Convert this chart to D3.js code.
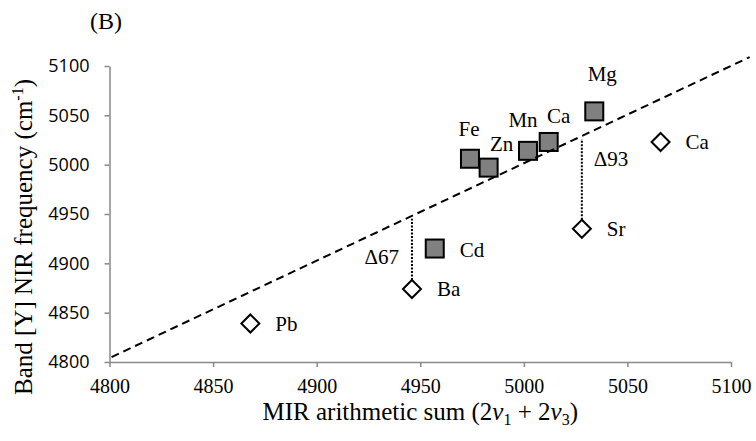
<!DOCTYPE html>
<html>
<head>
<meta charset="utf-8">
<script src="https://cdn.jsdelivr.net/npm/d3@7"></script>
<style>
  body { margin: 0; background: #fff; }
  svg { display: block; }
  .serif { font-family: "Liberation Serif", "Times New Roman", serif; }
</style>
</head>
<body>
<svg id="chart" width="756" height="441"></svg>
<script>
/*------------------------
  ---------- DATA --------
  ------------------------*/
var square_names = ["Cd", "Fe", "Zn", "Mn", "Ca", "Mg"];
var square_x = [4957, 4974, 4983, 5002, 5012, 5034];
var square_y = [4915, 5006, 4997, 5014, 5023, 5054];

var diamond_names = ["Pb", "Ba", "Sr", "Ca"];
var diamond_x = [4868, 4946, 5028, 5066];
var diamond_y = [4839, 4874, 4935, 5023];

var trend_x = [4801, 5109];
var trend_y = [4805, 5109];

var gap_names = ["Δ67", "Δ93"];
var gap_from = ["Ba", "Sr"];

var x_ticks = [4800, 4850, 4900, 4950, 5000, 5050, 5100];
var y_ticks = [4800, 4850, 4900, 4950, 5000, 5050, 5100];

/*------------------------
  -------- LAYOUT --------
  ------------------------*/
// label offsets from marker centre, px
var square_label_pos = {
    Cd: [25, 8, "start"],
    Fe: [-1, -23, "middle"],
    Zn: [13, -17, "middle"],
    Mn: [-5, -24, "middle"],
    Ca: [10, -19, "middle"],
    Mg: [8, -30, "middle"]
};
var diamond_label_pos = [25, 7.5];
var gap_label_pos = { "Δ67": [-13, 12, "end"], "Δ93": [12, -16, "start"] };

var svg = d3.select("#chart");

var x = d3.scaleLinear().domain([4800, 5100]).range([109.5, 731]);
var y = d3.scaleLinear().domain([4800, 5100]).range([362, 66]);

var squares = square_names.map(function(n, i) {
    return { name: n, x: square_x[i], y: square_y[i] };
});
var diamonds = diamond_names.map(function(n, i) {
    return { name: n, x: diamond_x[i], y: diamond_y[i] };
});

function trend_at(v) {
    return trend_y[0] + (v - trend_x[0]) * (trend_y[1] - trend_y[0]) / (trend_x[1] - trend_x[0]);
}

/*------------------------
  --------- AXES ---------
  ------------------------*/
var axis_color = "#898989";
var fmt = d3.format("d");

var gx = svg.append("g")
    .attr("transform", "translate(0," + y(4800) + ")")
    .call(d3.axisBottom(x).tickValues(x_ticks).tickFormat(fmt).tickSize(5).tickSizeOuter(0));
gx.selectAll("text")
    .attr("class", "serif")
    .attr("y", 31).attr("dy", null)
    .style("font-size", "20px").attr("fill", "#000");

var gy = svg.append("g")
    .attr("transform", "translate(" + x(4800) + ",0)")
    .call(d3.axisLeft(y).tickValues(y_ticks).tickFormat(fmt).tickSize(5).tickSizeOuter(0).tickPadding(15));
gy.selectAll("text")
    .style("font-family", "'Open Sans', sans-serif")
    .style("font-size", "18px").attr("fill", "#000");

svg.selectAll(".domain, .tick line")
    .attr("stroke", axis_color).attr("stroke-width", 1.5);

/*------------------------
  -------- MARKS ---------
  ------------------------*/
// vertical dotted gaps
gap_names.forEach(function(g, i) {
    var d = diamonds.find(function(p) { return p.name == gap_from[i]; });
    svg.append("line")
        .attr("x1", x(d.x)).attr("x2", x(d.x))
        .attr("y1", y(d.y) - 9).attr("y2", y(trend_at(d.x)) + 3)
        .attr("stroke", "#000").attr("stroke-width", 2)
        .attr("stroke-dasharray", "2,1.5");
    var lp = gap_label_pos[g];
    svg.append("text")
        .attr("class", "serif")
        .attr("x", x(d.x) + lp[0])
        .attr("y", (y(d.y) + y(trend_at(d.x))) / 2 + lp[1])
        .attr("text-anchor", lp[2])
        .style("font-size", "21px")
        .text(g);
});

svg.selectAll(".sq")
    .data(squares).enter()
    .append("rect")
    .attr("class", "sq")
    .attr("x", function(d) { return x(d.x) - 9; })
    .attr("y", function(d) { return y(d.y) - 9; })
    .attr("width", 18).attr("height", 18)
    .attr("fill", "#808080").attr("stroke", "#000").attr("stroke-width", 2);

svg.selectAll(".dm")
    .data(diamonds).enter()
    .append("path")
    .attr("class", "dm")
    .attr("d", function(d) {
        var cx = x(d.x), cy = y(d.y), r = 9;
        return "M" + cx + "," + (cy - r) + "L" + (cx + r) + "," + cy +
               "L" + cx + "," + (cy + r) + "L" + (cx - r) + "," + cy + "Z";
    })
    .attr("fill", "#fff").attr("stroke", "#000").attr("stroke-width", 2);

// trend line on top of markers
svg.append("line")
    .attr("x1", x(trend_x[0])).attr("y1", y(trend_y[0]))
    .attr("x2", x(trend_x[1])).attr("y2", y(trend_y[1]))
    .attr("stroke", "#000").attr("stroke-width", 2)
    .attr("stroke-dasharray", "8,5");

svg.selectAll(".sq-label")
    .data(squares).enter()
    .append("text")
    .attr("class", "serif sq-label")
    .attr("x", function(d) { return x(d.x) + square_label_pos[d.name][0]; })
    .attr("y", function(d) { return y(d.y) + square_label_pos[d.name][1]; })
    .attr("text-anchor", function(d) { return square_label_pos[d.name][2]; })
    .style("font-size", "21px")
    .text(function(d) { return d.name; });

svg.selectAll(".dm-label")
    .data(diamonds).enter()
    .append("text")
    .attr("class", "serif dm-label")
    .attr("x", function(d) { return x(d.x) + diamond_label_pos[0]; })
    .attr("y", function(d) { return y(d.y) + diamond_label_pos[1]; })
    .style("font-size", "21px")
    .text(function(d) { return d.name; });

/*------------------------
  -------- TITLES --------
  ------------------------*/
svg.append("text")
    .attr("class", "serif")
    .attr("x", 90).attr("y", 29)
    .style("font-size", "24px")
    .text("(B)");

var xt = svg.append("text")
    .attr("class", "serif")
    .attr("x", (x(4800) + x(5100)) / 2 + 0).attr("y", 420)
    .attr("text-anchor", "middle")
    .style("font-size", "25px");
xt.append("tspan").text("MIR arithmetic sum (2");
xt.append("tspan").style("font-style", "italic").text("v");
xt.append("tspan").attr("dy", 5).style("font-size", "16px").text("1");
xt.append("tspan").attr("dy", -5).text(" + 2");
xt.append("tspan").style("font-style", "italic").text("v");
xt.append("tspan").attr("dy", 5).style("font-size", "16px").text("3");
xt.append("tspan").attr("dy", -5).text(")");

var yt = svg.append("text")
    .attr("class", "serif")
    .attr("transform", "translate(32,237) rotate(-90)")
    .attr("text-anchor", "middle")
    .style("font-size", "25px");
yt.append("tspan").text("Band [Y] NIR frequency (cm");
yt.append("tspan").attr("dy", -9).style("font-size", "16px").text("-1");
yt.append("tspan").attr("dy", 9).text(")");
</script>
</body>
</html>
